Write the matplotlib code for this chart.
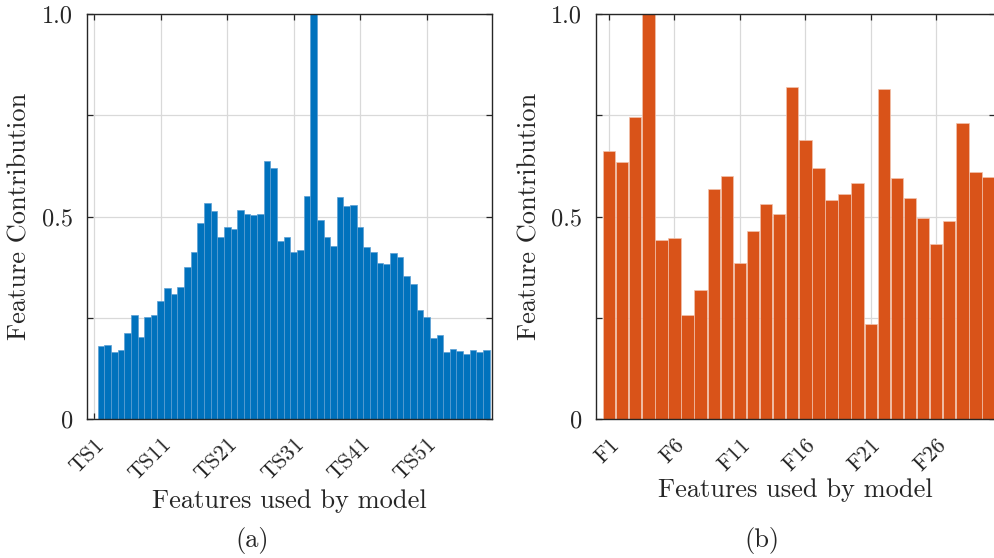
import numpy as np
import matplotlib
matplotlib.use("Agg")
import matplotlib.pyplot as plt

plt.rcParams['font.family'] = ['cmr10', 'DejaVu Serif']
plt.rcParams['mathtext.fontset'] = 'cm'
plt.rcParams['axes.formatter.use_mathtext'] = True

# Time-series feature contributions (TS1..TS60)
ts_values = [
    0.0, 0.181, 0.183, 0.167, 0.171, 0.212, 0.257, 0.202, 0.252, 0.257,
    0.291, 0.323, 0.308, 0.327, 0.375, 0.412, 0.484, 0.533, 0.515, 0.450,
    0.475, 0.470, 0.516, 0.506, 0.504, 0.507, 0.637, 0.619, 0.439, 0.449,
    0.414, 0.417, 0.550, 1.000, 0.492, 0.449, 0.428, 0.549, 0.526, 0.528,
    0.474, 0.426, 0.414, 0.386, 0.384, 0.410, 0.401, 0.353, 0.333, 0.269,
    0.253, 0.201, 0.208, 0.165, 0.173, 0.169, 0.162, 0.170, 0.166, 0.170,
]
ts_tick_labels = ['TS1', 'TS11', 'TS21', 'TS31', 'TS41', 'TS51']

# Static feature contributions (F1..F30)
f_values = [
    0.663, 0.636, 0.746, 1.000, 0.442, 0.447, 0.257, 0.319, 0.567, 0.600,
    0.385, 0.465, 0.531, 0.506, 0.819, 0.690, 0.620, 0.541, 0.556, 0.584,
    0.235, 0.814, 0.595, 0.545, 0.497, 0.432, 0.489, 0.732, 0.609, 0.598,
]
f_tick_labels = ['F1', 'F6', 'F11', 'F16', 'F21', 'F26']

ytick_vals = [0, 0.25, 0.5, 0.75, 1.0]
ytick_labels = ['0', '', '0.5', '', '1.0']

blue = '#0072BD'
orange = '#D95319'
axis_col = '#262626'

fig = plt.figure(figsize=(9.95, 5.58), dpi=100)
ax1 = fig.add_axes([87 / 995, 1 - 419.3 / 558, 405 / 995, 405.3 / 558])
ax2 = fig.add_axes([596 / 995, 1 - 419.3 / 558, 399 / 995, 405.3 / 558])


def style(ax, n, tick_labels, xlim, step, xlabel_y):
    ax.set_ylim(0, 1)
    ax.set_xlim(*xlim)
    ax.set_xticks(np.arange(1, n + 1, step))
    ax.set_xticklabels(tick_labels, rotation=45, ha='right', va='top',
                       rotation_mode='anchor', fontsize=16)
    ax.set_yticks(ytick_vals)
    ax.set_yticklabels(ytick_labels, fontsize=17.5)
    ax.tick_params(direction='in', length=4, width=0.9, color=axis_col,
                   top=True, right=True, labelcolor=axis_col)
    ax.tick_params(axis='y', pad=10)
    ax.tick_params(axis='x', pad=11)
    ax.grid(True, color='#d9d9d9', linewidth=0.9)
    ax.set_axisbelow(True)
    for s in ax.spines.values():
        s.set_color(axis_col)
        s.set_linewidth(1.0)
    ax.set_ylabel('Feature Contribution', fontsize=19, color=axis_col)
    ax.yaxis.set_label_coords(-0.136, 0.5)
    ax.set_xlabel('Features used by model', fontsize=19, color=axis_col)
    ax.xaxis.set_label_coords(0.5, xlabel_y)


x1 = np.arange(1, len(ts_values) + 1)
ax1.bar(x1, ts_values, width=1.0, color=blue, edgecolor='#5c9fd3', linewidth=0.5, zorder=2)
style(ax1, len(ts_values), ts_tick_labels, (-0.1, 60.85), 10, -(489 - 419.3) / 405.3)

x2 = np.arange(1, len(f_values) + 1)
ax2.bar(x2, f_values, width=0.95, color=orange, edgecolor='#f2c2ad', linewidth=0.5, zorder=2)
style(ax2, len(f_values), f_tick_labels, (0, 30.5), 5, -(478 - 419.3) / 405.3)

fig.text(252 / 995, 1 - 541 / 558, '(a)', fontsize=19, color=axis_col, ha='center', va='center')
fig.text(762 / 995, 1 - 541 / 558, '(b)', fontsize=19, color=axis_col, ha='center', va='center')

fig.savefig('out.png', dpi=100)
